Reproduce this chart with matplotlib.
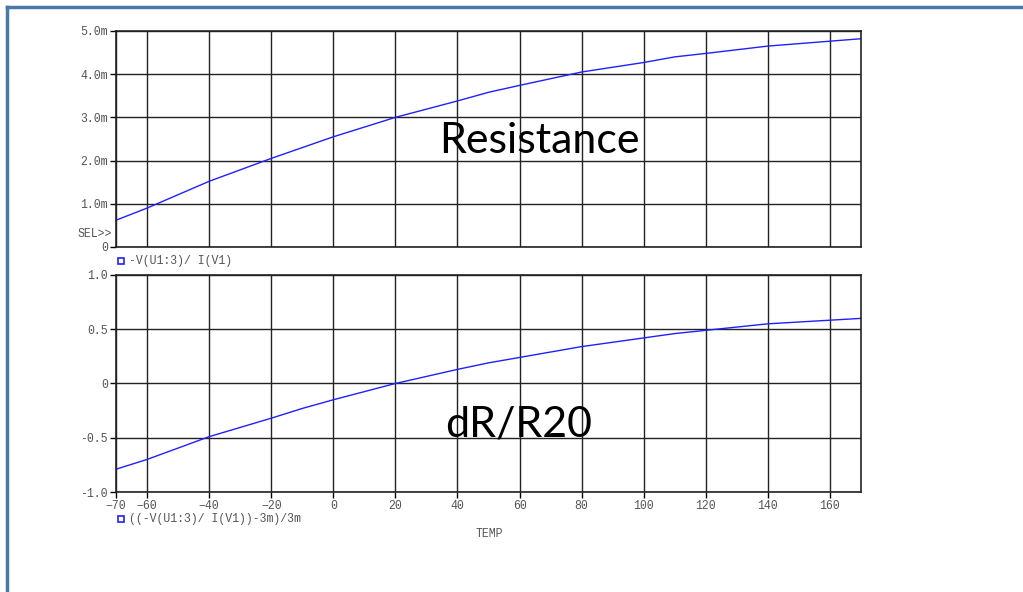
import matplotlib
matplotlib.use("Agg")
import matplotlib.pyplot as plt
from matplotlib.lines import Line2D

# temperature sweep points (deg C)
temp = [-70, -60, -40, -20, -10, 0, 20, 40, 50, 60, 80, 100, 110, 120, 140, 170]
# resistance in mOhm
resistance = [0.62, 0.90, 1.52, 2.05, 2.30, 2.55, 3.00, 3.38, 3.58, 3.74,
              4.05, 4.27, 4.40, 4.48, 4.65, 4.82]
# relative change vs. 20 C
rel_change = [-0.79, -0.70, -0.49, -0.32, -0.23, -0.15, 0.00, 0.13, 0.19, 0.24,
              0.34, 0.42, 0.46, 0.49, 0.55, 0.60]

x_ticks = [-70, -60, -40, -20, 0, 20, 40, 60, 80, 100, 120, 140, 160]
top_ticks = [0, 1, 2, 3, 4, 5]
top_labels = ["0", "1.0m", "2.0m", "3.0m", "4.0m", "5.0m"]
bot_ticks = [-1.0, -0.5, 0, 0.5, 1.0]
bot_labels = ["-1.0", "-0.5", "0", "0.5", "1.0"]

MONO = "Liberation Mono"
MONO_SIZE = 8.3
TICK_COLOR = "#555555"
LINE_COLOR = "#2020ff"


def style_axes(ax):
    ax.set_xlim(-70, 170)
    ax.set_xticks(x_ticks)
    ax.grid(True, color="#222222", linewidth=1.0)
    for side in ax.spines.values():
        side.set_color("#222222")
        side.set_linewidth(1.2)
    ax.tick_params(axis="both", direction="out", length=4, width=1,
                   labelsize=MONO_SIZE, labelcolor=TICK_COLOR, pad=2)
    for lbl in ax.get_xticklabels() + ax.get_yticklabels():
        lbl.set_fontfamily(MONO)


def trace_label(y_px, text):
    y = 1 - y_px / 592
    fig.add_artist(Line2D([120.5 / 1023], [y], transform=fig.transFigure,
                          marker="s", markersize=5, markerfacecolor="white",
                          markeredgecolor=LINE_COLOR, markeredgewidth=1.2,
                          linestyle="none"))
    fig.text(129 / 1023, y, text, family=MONO, fontsize=MONO_SIZE,
             color=TICK_COLOR, va="center")


fig = plt.figure(figsize=(10.23, 5.92), dpi=100)

ax1 = fig.add_axes([0.1134, 0.5828, 0.7282, 0.3649])
ax1.plot(temp, resistance, color=LINE_COLOR, linewidth=1.0)
ax1.set_ylim(0, 5)
ax1.set_yticks(top_ticks)
ax1.set_yticklabels(top_labels)
style_axes(ax1)
ax1.tick_params(axis="x", labelbottom=False, length=0)
ax1.text(0.568, 0.49, "Resistance", transform=ax1.transAxes, fontsize=31,
         family="Lato", ha="center", va="center")

ax2 = fig.add_axes([0.1134, 0.1689, 0.7282, 0.3666])
ax2.plot(temp, rel_change, color=LINE_COLOR, linewidth=1.0)
ax2.set_ylim(-1.0, 1.0)
ax2.set_yticks(bot_ticks)
ax2.set_yticklabels(bot_labels)
style_axes(ax2)
ax2.text(0.54, 0.31, "dR/R20", transform=ax2.transAxes, fontsize=31,
         family="Lato", ha="center", va="center")

# trace labels in PSpice style
fig.text(77 / 1023, 1 - 234 / 592, "SEL>>", family=MONO, fontsize=MONO_SIZE,
         color=TICK_COLOR, va="center")
trace_label(261, "-V(U1:3)/ I(V1)")
trace_label(519, "((-V(U1:3)/ I(V1))-3m)/3m")
fig.text(489 / 1023, 1 - 534 / 592, "TEMP", family=MONO, fontsize=MONO_SIZE,
         color=TICK_COLOR, ha="center", va="center")

# slide frame edges
fig.add_artist(Line2D([7 / 1023, 1], [1 - 7 / 592, 1 - 7 / 592],
                      transform=fig.transFigure, color="#4a78a8", linewidth=2.5))
fig.add_artist(Line2D([7 / 1023, 7 / 1023], [0, 1 - 7 / 592],
                      transform=fig.transFigure, color="#4a78a8", linewidth=2.5))

fig.savefig("out.png", dpi=100)
